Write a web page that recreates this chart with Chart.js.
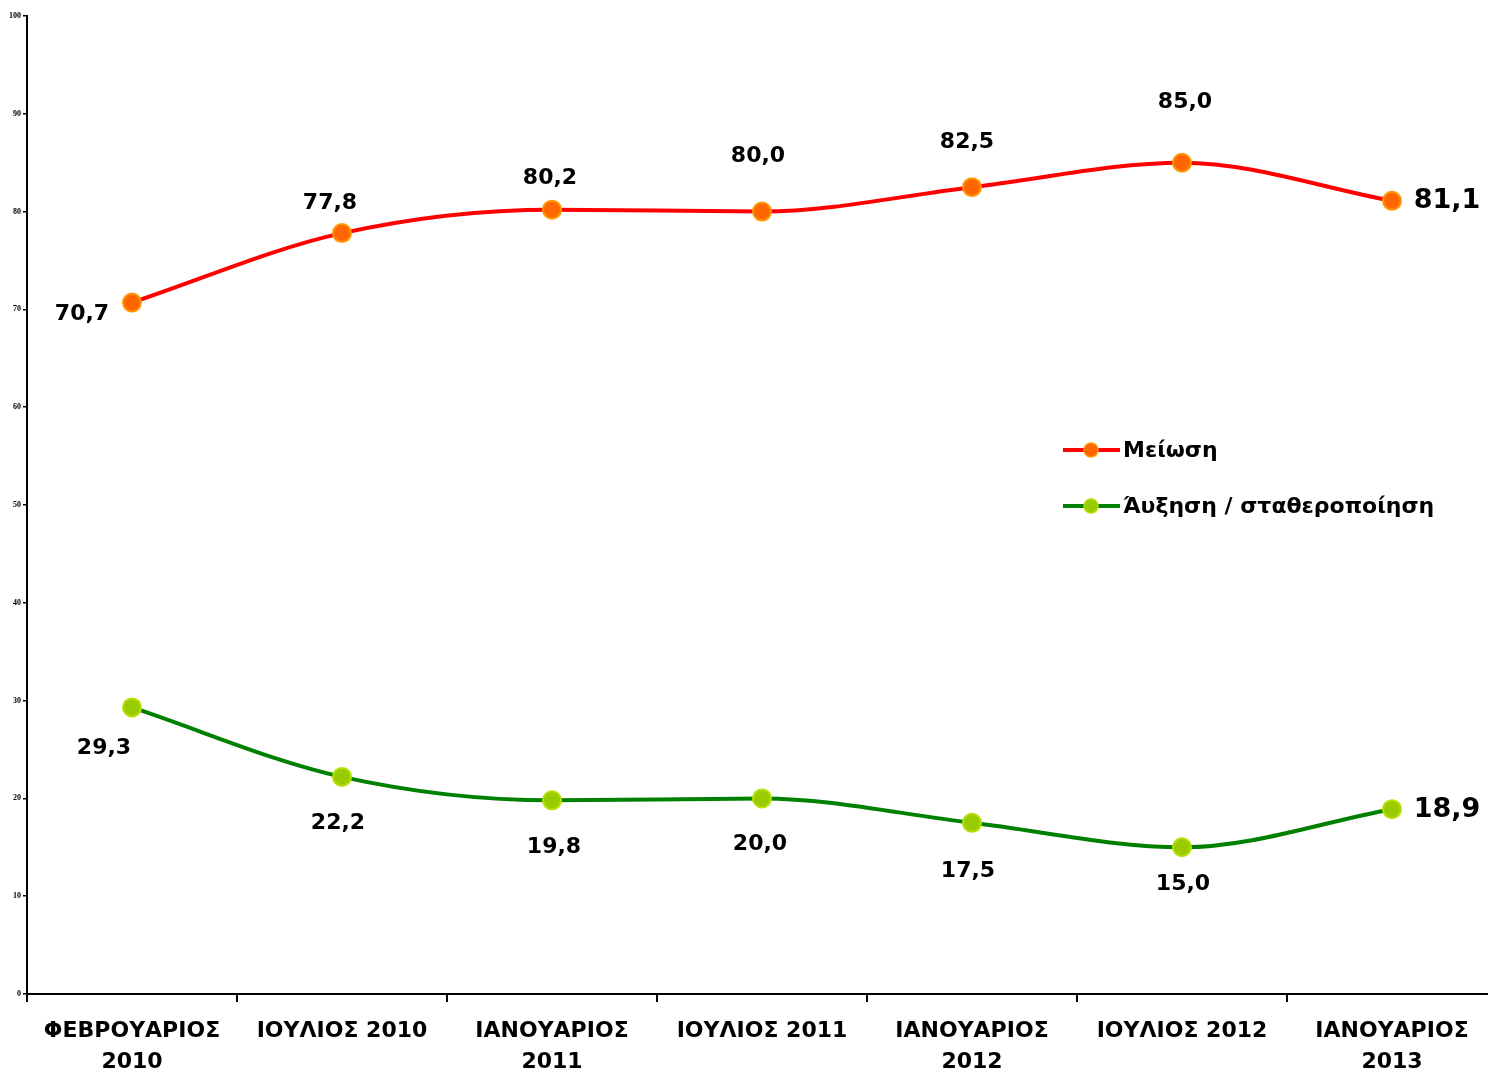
<!DOCTYPE html>
<html>
<head>
<meta charset="utf-8">
<script src="https://cdn.jsdelivr.net/npm/chart.js@4/dist/chart.umd.min.js"></script>
<style>
  html, body { margin: 0; padding: 0; background: #fff; overflow: hidden; }
  #chartCanvas { position: absolute; left: 0; top: 0; }
</style>
</head>
<body>
<canvas id="chartCanvas" width="1508" height="1073"></canvas>
<script>
const periods = [["ΦΕΒΡΟΥΑΡΙΟΣ", "2010"], "ΙΟΥΛΙΟΣ 2010", ["ΙΑΝΟΥΑΡΙΟΣ", "2011"], "ΙΟΥΛΙΟΣ 2011", ["ΙΑΝΟΥΑΡΙΟΣ", "2012"], "ΙΟΥΛΙΟΣ 2012", ["ΙΑΝΟΥΑΡΙΟΣ", "2013"]];
const decreaseValues = [70.7, 77.8, 80.2, 80.0, 82.5, 85.0, 81.1];
const increaseValues = [29.3, 22.2, 19.8, 20.0, 17.5, 15.0, 18.9];
const seriesNames = ["Μείωση", "Άυξηση / σταθεροποίηση"];
const yTicks = [0, 10, 20, 30, 40, 50, 60, 70, 80, 90, 100];

const fontFamily = "'DejaVu Sans', Verdana, sans-serif";

// where Excel put each value label, relative to its point
const labelOffsets = [
  [[-50, 12], [-12, -30], [-2, -31], [-4, -55], [-5, -45], [3, -60], [55, 0]],
  [[-28, 41], [-4, 46], [2, 47], [-2, 46], [-4, 48], [1, 37], [55, 1]]
];

const valueLabels = {
  id: "valueLabels",
  afterDatasetsDraw(chart) {
    const ctx = chart.ctx;
    ctx.save();
    ctx.fillStyle = "#000";
    ctx.textAlign = "center";
    ctx.textBaseline = "middle";
    chart.data.datasets.forEach((ds, di) => {
      chart.getDatasetMeta(di).data.forEach((pt, i) => {
        const last = i == ds.data.length - 1;
        ctx.font = "bold " + (last ? 27 : 22) + "px " + fontFamily;
        const off = labelOffsets[di][i];
        ctx.fillText(ds.data[i].toFixed(1).replace(".", ","), pt.x + off[0], pt.y + off[1]);
      });
    });
    ctx.restore();
  }
};

const sideLegend = {
  id: "sideLegend",
  afterDraw(chart) {
    const ctx = chart.ctx;
    ctx.save();
    chart.data.datasets.forEach((ds, i) => {
      const y = 450 + i * 56;
      ctx.strokeStyle = ds.borderColor;
      ctx.lineWidth = 4;
      ctx.beginPath();
      ctx.moveTo(1063, y);
      ctx.lineTo(1120, y);
      ctx.stroke();
      ctx.beginPath();
      ctx.arc(1091, y, 7, 0, Math.PI * 2);
      ctx.fillStyle = ds.pointBackgroundColor;
      ctx.fill();
      ctx.lineWidth = 1.5;
      ctx.strokeStyle = ds.pointBorderColor;
      ctx.stroke();
      ctx.fillStyle = "#000";
      ctx.font = "bold 22px " + fontFamily;
      ctx.textAlign = "left";
      ctx.textBaseline = "middle";
      ctx.fillText(ds.label, 1123, y + 1);
    });
    ctx.restore();
  }
};

new Chart("chartCanvas", {
  type: "line",
  data: {
    labels: periods,
    datasets: [
      {
        label: seriesNames[0],
        data: decreaseValues,
        borderColor: "#FF0000",
        borderWidth: 4,
        cubicInterpolationMode: "monotone",
        pointRadius: 9,
        pointBackgroundColor: "#FF6600",
        pointBorderColor: "#FF9900",
        pointBorderWidth: 2
      },
      {
        label: seriesNames[1],
        data: increaseValues,
        borderColor: "#008000",
        borderWidth: 4,
        cubicInterpolationMode: "monotone",
        pointRadius: 9,
        pointBackgroundColor: "#99CC00",
        pointBorderColor: "#B5E000",
        pointBorderWidth: 2
      }
    ]
  },
  options: {
    responsive: false,
    animation: false,
    layout: { padding: { top: 16, right: 3, left: 0, bottom: 0 } },
    plugins: {
      legend: { display: false },
      tooltip: { enabled: false }
    },
    scales: {
      x: {
        offset: true,
        border: { color: "#000", width: 2 },
        grid: { offset: true, drawOnChartArea: false, drawTicks: true, tickLength: 8, color: "#000", lineWidth: 2 },
        ticks: {
          color: "#000",
          maxRotation: 0,
          autoSkip: false,
          padding: 14,
          font: { family: fontFamily, size: 22, weight: "bold", lineHeight: 1.4 }
        },
        afterFit(scale) { scale.height = 79; }
      },
      y: {
        min: 0,
        max: 100,
        afterBuildTicks(scale) { scale.ticks = yTicks.map(v => ({ value: v })); },
        border: { color: "#000", width: 2 },
        grid: { drawOnChartArea: false, drawTicks: true, tickLength: 4, color: "#000", lineWidth: 1.5 },
        ticks: {
          color: "#000",
          padding: 2,
          font: { family: "'Liberation Serif', serif", size: 8, weight: "bold" }
        },
        afterFit(scale) { scale.width = 27; }
      }
    }
  },
  plugins: [valueLabels, sideLegend]
});
</script>
</body>
</html>
